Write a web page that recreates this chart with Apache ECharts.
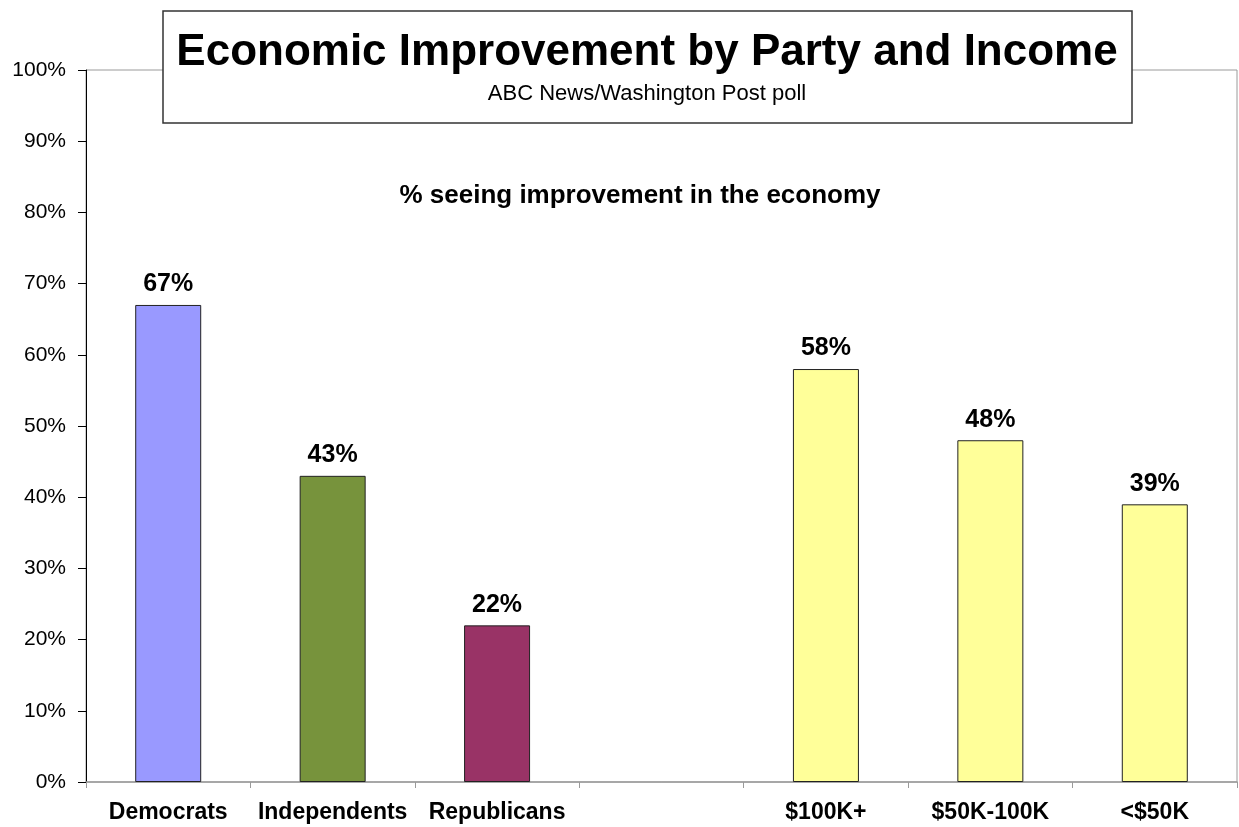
<!DOCTYPE html>
<html>
<head>
<meta charset="utf-8">
<script src="https://cdn.jsdelivr.net/npm/echarts@6/dist/echarts.min.js"></script>
<style>
html,body{margin:0;padding:0;background:#fff;}
#chart{width:1239px;height:827px;}
</style>
</head>
<body>
<div id="chart"></div>
<script>
const categories = ['Democrats', 'Independents', 'Republicans', '', '$100K+', '$50K-100K', '<$50K'];
const values = [67, 43, 22, null, 58, 48, 39];
const barColors = ['#9999FF', '#77933C', '#993366', '#FFFF99', '#FFFF99', '#FFFF99', '#FFFF99'];
const yTicks = [0, 10, 20, 30, 40, 50, 60, 70, 80, 90, 100];

const titleText = 'Economic Improvement by Party and Income';
const subTitleText = 'ABC News/Washington Post poll';
const innerTitleText = '% seeing improvement in the economy';

const FONT = '"Liberation Sans", Arial, Helvetica, sans-serif';

const chart = echarts.init(document.getElementById('chart'), null, {renderer: 'canvas'});

const seriesData = values.map((v, i) => (v === null ? '-' : {
  value: v,
  itemStyle: {color: barColors[i]}
}));

chart.setOption({
  backgroundColor: '#ffffff',
  animation: false,
  grid: {
    left: 86, right: 2, top: 70, bottom: 45,
    show: true, borderColor: '#9a9a9a', borderWidth: 1, backgroundColor: 'transparent'
  },
  xAxis: {
    type: 'category',
    data: categories,
    axisLine: {lineStyle: {color: '#9a9a9a', width: 1.5}},
    axisTick: {show: true, length: 6, lineStyle: {color: '#9a9a9a'}},
    axisLabel: {
      interval: 0, hideOverlap: false,
      color: '#000', fontFamily: FONT, fontWeight: 'bold', fontSize: 23, margin: 19
    },
    splitLine: {show: false}
  },
  yAxis: {
    type: 'value',
    min: yTicks[0], max: yTicks[yTicks.length - 1], interval: 10,
    axisLine: {show: true, lineStyle: {color: '#000', width: 1}},
    axisTick: {show: true, length: 8, lineStyle: {color: '#000'}},
    axisLabel: {
      formatter: '{value}%', color: '#000', fontFamily: FONT, fontSize: 21, margin: 20
    },
    splitLine: {show: false}
  },
  series: [{
    type: 'bar',
    data: seriesData,
    barWidth: 66,
    itemStyle: {borderColor: '#222', borderWidth: 1},
    label: {
      show: true, position: 'top', distance: 8,
      formatter: '{c}%', color: '#000', fontFamily: FONT, fontWeight: 'bold', fontSize: 25
    }
  }],
  graphic: [
    {
      type: 'rect', z: 100,
      shape: {x: 163, y: 11, width: 969, height: 112},
      style: {fill: '#fff', stroke: '#333', lineWidth: 1.5}
    },
    {
      type: 'text', z: 101, x: 647, y: 53,
      style: {text: titleText, fill: '#000', font: 'bold 44px ' + FONT, textAlign: 'center', textVerticalAlign: 'middle'}
    },
    {
      type: 'text', z: 101, x: 647, y: 94,
      style: {text: subTitleText, fill: '#000', font: 'normal 22px ' + FONT, textAlign: 'center', textVerticalAlign: 'middle'}
    },
    {
      type: 'text', z: 101, x: 640, y: 196,
      style: {text: innerTitleText, fill: '#000', font: 'bold 26px ' + FONT, textAlign: 'center', textVerticalAlign: 'middle'}
    }
  ]
});
</script>
</body>
</html>
